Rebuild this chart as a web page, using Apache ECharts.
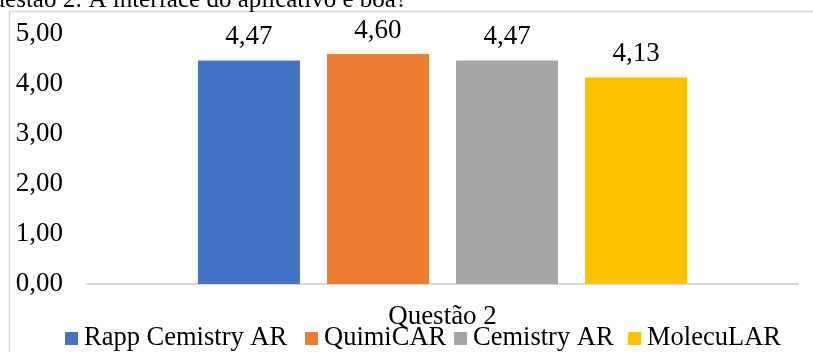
<!DOCTYPE html>
<html>
<head>
<meta charset="utf-8">
<style>
  html, body { margin: 0; padding: 0; background: #fff; }
  #chart { width: 813px; height: 352px; }
</style>
<script src="https://cdn.jsdelivr.net/npm/echarts@6/dist/echarts.min.js"></script>
</head>
<body>
<div id="chart"></div>
<script>
// Survey answers: average score per app for question 2
const categories = ['Questão 2'];
const appNames = ['Rapp Cemistry AR', 'QuimiCAR', 'Cemistry AR', 'MolecuLAR'];
const appScores = [4.47, 4.60, 4.47, 4.13];
const appColors = ['#4472C4', '#ED7D31', '#A5A5A5', '#FFC000'];
const yTicks = [0, 1, 2, 3, 4, 5];
const titleText = 'Questão 2: A interface do aplicativo é boa?';

const FONT = '"Liberation Serif", "Times New Roman", serif';
const SIZE = 27;
const fmt = v => v.toFixed(2).replace('.', ',');

// left edge of each legend entry
const legendLeft = [65, 305, 454, 628];

const chart = echarts.init(document.getElementById('chart'), null, { renderer: 'canvas' });

const series = appNames.map((name, i) => ({
  name: name,
  type: 'bar',
  data: [appScores[i]],
  barWidth: 102,
  barGap: '26.5%',
  itemStyle: { color: appColors[i] },
  label: {
    show: true,
    position: 'top',
    distance: 10,
    formatter: p => fmt(p.value),
    fontFamily: FONT,
    fontSize: SIZE,
    color: '#000'
  }
}));

const legends = appNames.map((name, i) => ({
  data: [name],
  bottom: 0,
  left: legendLeft[i],
  padding: 0,
  itemWidth: 13,
  itemHeight: 13,
  icon: 'rect',
  textStyle: { fontFamily: FONT, fontSize: 26.5, color: '#000', padding: [0, 0, 0, 1] }
}));

chart.setOption({
  animation: false,
  backgroundColor: '#fff',
  textStyle: { fontFamily: FONT },
  graphic: [
    {
      type: 'rect',
      shape: { x: 9.5, y: 11.5, width: 900, height: 400 },
      style: { fill: 'none', stroke: '#d9d9d9', lineWidth: 1.5 },
      z: -1
    },
    {
      type: 'text',
      x: 407,
      y: 13,
      style: {
        text: titleText, font: '25px ' + FONT, fill: '#000',
        align: 'right', verticalAlign: 'bottom'
      }
    }
  ],
  grid: { left: 87, right: 15, top: 34, bottom: 68 },
  legend: legends,
  xAxis: {
    type: 'category',
    data: categories,
    axisLine: { lineStyle: { color: '#d9d9d9', width: 2 } },
    axisTick: { show: false },
    axisLabel: { fontFamily: FONT, fontSize: SIZE, color: '#000', margin: 19 }
  },
  yAxis: {
    type: 'value',
    min: yTicks[0],
    max: yTicks[yTicks.length - 1],
    interval: 1,
    splitLine: { show: false },
    axisLine: { show: false },
    axisTick: { show: false },
    axisLabel: {
      fontFamily: FONT, fontSize: SIZE, color: '#000', margin: 24,
      formatter: v => fmt(v)
    }
  },
  series: series
});
</script>
</body>
</html>
